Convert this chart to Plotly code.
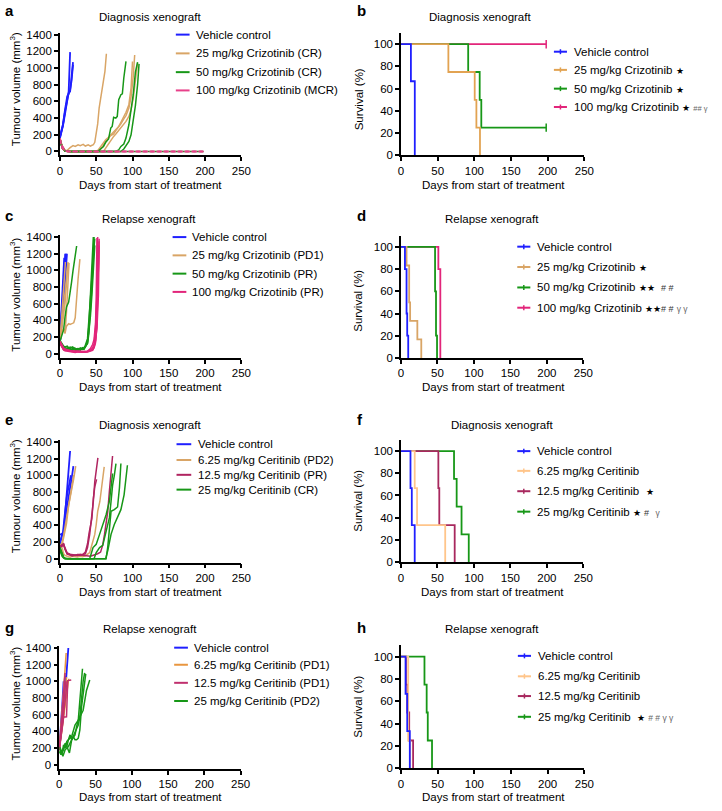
import plotly.graph_objects as go

W, H = 722, 811
FONT = "Liberation Sans, Arial, Helvetica, sans-serif"

# ---------------- colours ----------------
BLUE = "#1F1FFF"
TAN = "#D9A566"
TAN_B = "#E2A352"
GREEN = "#179717"
PINK_A = "#E8408A"
PINK = "#E2257A"
LIGHT_OR = "#FFC58A"
CRIMSON = "#B02460"
CRIMSON_F = "#A8285E"
ORANGE_G = "#E8963F"
CRIMSON_G = "#C0306E"

# ---------------- data: tumour volume (days, mm3) per mouse ----------------
# panel a  - diagnosis xenograft, crizotinib
A_VEH = [
    ([0, 2, 4, 7, 10, 12, 14], [160, 230, 300, 450, 650, 720, 1190]),
    ([0, 2, 4, 7, 10, 12, 14, 16, 18], [170, 240, 310, 480, 640, 700, 720, 900, 1070]),
    ([0, 2, 4, 7, 10, 12, 14, 16, 18], [180, 250, 320, 500, 660, 690, 740, 850, 1040]),
]
A_CR25 = [
    ([0, 2, 4, 7, 10, 14, 18, 21, 25, 28, 32, 35, 39, 42, 46, 48, 50, 52, 54, 57, 60, 62, 64],
     [150, 80, 30, 10, 15, 45, 70, 60, 80, 70, 85, 65, 80, 65, 80, 110, 210, 330, 520, 680, 840, 960, 1170]),
    ([0, 3, 7, 10, 14, 21, 28, 35, 42, 49, 53, 56, 60, 63, 67, 70, 74, 77, 81, 84, 88, 91, 95, 98, 100],
     [150, 60, 10, 0, 0, 0, 0, 0, 0, 0, 20, 60, 100, 140, 170, 200, 230, 260, 300, 350, 410, 470, 560, 760, 1077]),
    ([0, 3, 7, 10, 14, 21, 28, 35, 42, 49, 53, 56, 60, 63, 67, 70, 74, 77, 81, 84, 88, 91, 95, 98, 101, 103],
     [140, 50, 5, 0, 0, 0, 0, 0, 0, 0, 0, 30, 80, 120, 160, 190, 210, 250, 290, 330, 390, 430, 520, 650, 900, 1155]),
    ([0, 3, 7, 10, 14, 21, 28, 35, 42, 49, 56, 60, 63, 67, 70, 74, 77, 81, 84, 88, 91, 95, 98, 101, 104, 107],
     [160, 70, 15, 0, 0, 0, 0, 0, 0, 0, 0, 0, 40, 90, 140, 180, 210, 250, 290, 330, 360, 420, 500, 640, 830, 1061]),
]
A_CR50 = [
    ([0, 3, 7, 10, 14, 21, 28, 35, 42, 49, 52, 56, 60, 63, 67, 70, 72, 74, 77, 79, 81, 84, 86, 88, 91],
     [150, 50, 10, 0, 0, 0, 0, 0, 0, 0, 0, 30, 60, 110, 150, 280, 300, 410, 400, 420, 620, 680, 690, 880, 1080]),
    ([0, 3, 7, 10, 14, 21, 28, 35, 42, 49, 56, 63, 70, 77, 81, 84, 88, 91, 95, 98, 101, 104, 107],
     [150, 50, 5, 0, 0, 0, 0, 0, 0, 0, 0, 0, 0, 0, 20, 60, 90, 160, 320, 480, 680, 950, 1070]),
    ([0, 3, 7, 10, 14, 21, 28, 35, 42, 49, 56, 63, 70, 77, 84, 88, 91, 95, 98, 101, 104, 107, 109],
     [140, 40, 5, 0, 0, 0, 0, 0, 0, 0, 0, 0, 0, 0, 0, 30, 70, 120, 200, 350, 550, 800, 1050]),
    ([0, 3, 7, 10, 14, 21, 28, 42, 56, 70, 84, 98, 112, 126, 140, 154, 168, 182, 198],
     [150, 50, 5, 0, 0, 0, 0, 0, 0, 0, 0, 0, 0, 0, 0, 0, 0, 0, 0]),
]
A_CR100 = [
    ([0, 3, 7, 10, 14, 28, 56, 84, 112, 140, 168, 198], [150, 60, 10, 0, 0, 0, 0, 0, 0, 0, 0, 0]),
    ([0, 3, 7, 10, 14, 28, 56, 84, 112, 140, 168, 198], [130, 50, 5, 0, 0, 0, 0, 0, 0, 0, 0, 0]),
    ([0, 3, 7, 10, 14, 28, 56, 84, 112, 140, 168, 198], [160, 70, 10, 0, 0, 0, 0, 0, 0, 0, 0, 0]),
    ([0, 3, 7, 10, 14, 28, 56, 84, 112, 140, 168, 198], [140, 40, 5, 0, 0, 0, 0, 0, 0, 0, 0, 0]),
]

# panel c - relapse xenograft, crizotinib
C_VEH = [
    ([0, 2, 4, 6], [160, 450, 800, 1150]),
    ([0, 2, 4, 6, 7.5], [150, 380, 650, 950, 1200]),
    ([0, 2, 4, 6, 8], [170, 350, 600, 900, 1200]),
    ([0, 2, 4, 6, 8.5], [140, 330, 580, 850, 1180]),
    ([0, 2, 4, 6, 8, 9.5], [150, 300, 500, 750, 1000, 1200]),
]
C_CR25 = [
    ([0, 2, 4, 6, 7.5], [150, 350, 650, 900, 1100]),
    ([0, 2, 4, 7, 9, 11], [150, 300, 450, 700, 900, 1090]),
    ([0, 3, 5, 7, 9, 11, 12.5], [150, 280, 300, 245, 500, 800, 1090]),
    ([0, 2, 4, 7, 9, 11], [140, 280, 400, 600, 850, 1100]),
    ([0, 3, 5, 7, 9, 12, 14, 16, 19, 21, 23, 25, 27.5],
     [150, 280, 300, 245, 330, 360, 350, 355, 370, 430, 700, 900, 1135]),
]
C_CR50 = [
    ([0, 3, 5, 7, 9, 12, 14, 16, 18, 21, 23], [150, 230, 285, 443, 562, 620, 720, 858, 997, 1155, 1293]),
    ([0, 3, 5, 7, 10, 12, 14, 17, 19, 21, 24, 26, 28, 31, 33, 35, 38, 40, 42, 44, 46],
     [150, 100, 80, 70, 60, 50, 80, 60, 50, 60, 40, 50, 70, 60, 50, 80, 150, 350, 650, 1000, 1400]),
    ([0, 3, 5, 7, 10, 12, 14, 17, 19, 21, 24, 26, 28, 31, 33, 35, 38, 40, 42, 44, 46, 47],
     [140, 90, 60, 50, 70, 60, 50, 40, 60, 50, 60, 45, 40, 70, 60, 90, 120, 250, 500, 800, 1150, 1400]),
    ([0, 3, 5, 7, 10, 12, 14, 17, 19, 21, 24, 26, 28, 31, 33, 35, 38, 40, 42, 44, 46, 48],
     [160, 110, 90, 80, 90, 70, 60, 80, 70, 55, 50, 60, 55, 50, 70, 100, 180, 400, 600, 900, 1200, 1380]),
    ([0, 3, 5, 7, 10, 12, 14, 17, 19, 21, 24, 26, 28, 31, 33, 35, 38, 40, 42, 44, 46, 48],
     [130, 80, 50, 40, 50, 40, 45, 50, 45, 40, 35, 45, 50, 55, 60, 80, 130, 300, 450, 700, 1000, 1300]),
]
C_CR100 = [
    ([0, 3, 5, 7, 10, 14, 17, 21, 24, 28, 31, 35, 38, 40, 42, 45, 47, 49, 50, 51],
     [140, 90, 60, 50, 40, 30, 30, 25, 30, 30, 25, 25, 30, 40, 60, 110, 170, 360, 680, 1390]),
    ([0, 3, 5, 7, 10, 14, 17, 21, 24, 28, 31, 35, 38, 40, 42, 45, 47, 49, 51, 52],
     [130, 80, 50, 40, 35, 25, 20, 20, 25, 20, 20, 25, 25, 30, 40, 70, 120, 300, 700, 1400]),
    ([0, 3, 5, 7, 10, 14, 17, 21, 24, 28, 31, 35, 38, 40, 42, 45, 47, 49, 51, 52, 54],
     [150, 100, 70, 55, 45, 35, 30, 30, 25, 25, 20, 20, 25, 30, 35, 40, 80, 150, 400, 800, 1350]),
    ([0, 3, 5, 7, 10, 14, 17, 21, 24, 28, 31, 35, 38, 40, 42, 45, 47, 49, 51, 52, 54],
     [120, 70, 45, 35, 30, 20, 20, 15, 20, 20, 15, 20, 20, 25, 30, 45, 70, 130, 350, 750, 1380]),
    ([0, 3, 5, 7, 10, 14, 17, 21, 24, 28, 31, 35, 38, 40, 42, 45, 47, 49, 51, 53, 54],
     [140, 85, 55, 45, 40, 30, 25, 25, 30, 25, 20, 20, 25, 30, 35, 50, 90, 160, 300, 700, 1300]),
]

# panel e - diagnosis xenograft, ceritinib
E_VEH = [
    ([0, 3, 5, 7, 10, 12, 14], [170, 300, 300, 500, 800, 1050, 1290]),
    ([0, 2, 4, 7, 10, 13, 15], [290, 295, 300, 560, 780, 900, 1000]),
    ([0, 3, 5, 7, 10, 13, 16, 18.5], [200, 280, 330, 450, 650, 800, 950, 1110]),
]
E_CE625 = [
    ([0, 3, 5, 7, 9, 12, 14, 16, 18.8], [150, 200, 280, 380, 450, 600, 700, 850, 1000]),
    ([0, 3, 5, 7, 9, 12, 14, 16, 19, 21.7], [140, 170, 250, 340, 420, 640, 720, 820, 960, 1110]),
    ([0, 3, 5, 7, 10, 14, 17, 21, 24, 28, 31, 35, 38, 41, 43, 46, 48, 50, 52, 55, 57, 59, 61],
     [150, 130, 60, 40, 30, 20, 30, 25, 20, 30, 25, 35, 50, 75, 134, 213, 292, 410, 568, 686, 844, 1002, 1100]),
]
E_CE125 = [
    ([0, 3, 5, 7, 10, 14, 17, 21, 24, 28, 31, 35, 38, 41, 42.5, 44, 46, 48, 50, 52.3],
     [150, 160, 175, 120, 60, 50, 45, 40, 50, 45, 50, 60, 134, 292, 410, 489, 686, 923, 1081, 1207]),
    ([0, 3, 5, 7, 10, 14, 17, 21, 24, 28, 31, 35, 38, 40, 42, 44, 46, 48, 50.5],
     [140, 150, 170, 110, 55, 40, 35, 45, 40, 50, 45, 80, 180, 300, 420, 480, 720, 860, 950]),
    ([0, 3, 5, 7, 10, 14, 17, 21, 24, 28, 31, 35, 38, 42, 45, 49, 52, 56, 59, 61.4, 63.6, 65.9, 68.1, 70.4, 72.5],
     [150, 170, 180, 130, 70, 55, 50, 45, 40, 45, 40, 35, 30, 30, 40, 50, 60, 80, 166, 292, 410, 568, 805, 1002, 1230]),
]
E_CE25 = [
    ([0, 3, 5, 7, 10, 14, 21, 28, 35, 41, 45.6, 50, 54.6, 59, 63.6, 68.1, 70.4, 72.6],
     [120, 40, 16, 5, 0, 0, 0, 0, 0, 0, 134, 173, 292, 410, 528, 686, 850, 1021]),
    ([0, 3, 5, 7, 10, 14, 21, 28, 35, 42, 47, 50, 54.6, 59, 63.6, 68.1, 70.4, 72.6, 75, 77.2],
     [140, 60, 20, 5, 0, 0, 0, 0, 0, 0, 0, 75, 134, 160, 331, 489, 686, 883, 1000, 1140]),
    ([0, 3, 5, 7, 10, 14, 21, 28, 35, 42, 49, 56, 63.6, 66, 68.1, 70.4, 74.9, 79.4, 82, 84],
     [100, 30, 10, 0, 0, 0, 0, 0, 0, 0, 0, 0, 0, 150, 371, 568, 588, 620, 850, 1140]),
    ([0, 3, 5, 7, 10, 14, 21, 28, 35, 42, 49, 56, 63, 66, 70.4, 74.9, 79.4, 84, 88.4, 90.7, 93],
     [130, 50, 15, 0, 0, 0, 0, 0, 0, 0, 0, 0, 0, 100, 292, 410, 489, 588, 765, 923, 1120]),
]

# panel g - relapse xenograft, ceritinib
G_VEH = [
    ([0, 2, 4, 6], [180, 400, 700, 1000]),
    ([0, 2, 4, 6, 8], [170, 350, 600, 850, 1068]),
    ([0, 2, 4, 6, 8, 10, 12.5], [190, 330, 500, 650, 850, 1100, 1400]),
]
G_CE625 = [
    ([0, 2, 4, 6, 8, 9.5], [200, 400, 650, 900, 1150, 1340]),
    ([0, 2, 4, 6, 8, 10], [180, 350, 500, 700, 900, 1050]),
    ([0, 2, 4, 6, 8, 10.5], [190, 380, 550, 650, 800, 1000]),
    ([0, 2, 4, 6, 8, 10, 12, 13], [170, 300, 450, 550, 650, 780, 950, 1030]),
]
G_CE125 = [
    ([0, 2, 4, 6, 8], [170, 400, 650, 900, 1100]),
    ([0, 2, 4, 6, 8, 9], [180, 350, 500, 700, 900, 1000]),
    ([0, 2, 4, 6, 8, 10, 11], [190, 300, 450, 600, 750, 900, 1000]),
    ([0, 2, 4, 6, 8, 10, 11.7, 14, 16.5], [180, 330, 480, 573, 570, 573, 1008, 1010, 1016]),
]
G_CE25 = [
    ([0, 1.4, 3.6, 5.9, 8.1, 10.4, 12.6, 17.1, 21.7, 26.2, 28.4, 30.7, 32],
     [200, 198, 119, 237, 198, 277, 297, 336, 475, 534, 771, 1050, 1150]),
    ([0, 1.4, 5.9, 10.4, 12.6, 14.9, 17.1, 21.7, 26.2, 28.4, 32.9, 35],
     [150, 138, 198, 217, 297, 356, 297, 396, 475, 573, 1000, 1100]),
    ([0, 1.4, 5, 8.1, 12.6, 19.4, 21.7, 23.9, 26.2, 28.4, 30.7, 35.2, 36.5],
     [180, 178, 99, 178, 217, 336, 297, 297, 316, 415, 692, 1048, 1088]),
    ([0, 2.3, 5.9, 8.1, 10.4, 14, 17.1, 21.7, 23.9, 26.2, 32.9, 37.5, 42],
     [160, 119, 178, 257, 217, 140, 297, 356, 455, 534, 652, 890, 1016]),
]

# ---------------- data: survival (days, %) ----------------
B_VEH = ([0, 13.5, 18.8], [100, 66.7, 0])
B_CR25 = ([0, 64.6, 100.5, 102.8, 107.7], [100, 75, 50, 25, 0])
B_CR50 = ([0, 91.6, 107.3, 109.5, 198], [100, 75, 50, 25, 25])
B_CR100 = ([0, 198], [100, 100])
B_CENSOR = [(198, 100), (198, 25)]

D_VEH = ([0, 5.4, 7.6, 8.5, 9.9], [100, 80, 40, 20, 0])
D_CR25 = ([0, 7.6, 11.2, 12.5, 22.4, 27.8], [100, 83.3, 50, 33.3, 16.7, 0])
D_CR50 = ([0, 46.7, 48, 49.4], [100, 60, 20, 0])
D_CR100 = ([0, 51.2, 53.9], [100, 80, 0])

F_VEH = ([0, 13, 14.8, 18.8], [100, 66.7, 33.3, 0])
F_CE625 = ([0, 18.8, 22, 60.6], [100, 66.7, 33.3, 0])
F_CE125 = ([0, 51.2, 52.5, 73.6], [100, 66.7, 33.3, 0])
F_CE25 = ([0, 72.7, 76.3, 83, 92.9], [100, 75, 50, 25, 0])

H_VEH = ([0, 6.2, 8.5, 12], [100, 66.7, 33.3, 0])
H_CE625 = ([0, 9.8, 12.5], [100, 25, 0])
H_CE125 = ([0, 6.7, 8.5, 11.2, 16.5], [100, 75, 50, 25, 0])
H_CE25 = ([0, 32, 35, 36.5, 42.3], [100, 75, 50, 25, 0])

TUMOUR_TICKS = [0, 200, 400, 600, 800, 1000, 1200, 1400]
SURV_TICKS = [0, 20, 40, 60, 80, 100]
DAY_TICKS = [0, 50, 100, 150, 200, 250]

# ---------------- layout helpers ----------------
def X(px):
    return px / W


def Y(py):
    return 1 - py / H


fig = go.Figure()
layout = {}
annotations = []
shapes = []

AX_COMMON = dict(showline=True, linecolor="black", linewidth=1.5, ticks="outside",
                 ticklen=4, tickwidth=1.5, tickcolor="black", showgrid=False, zeroline=False,
                 tickfont=dict(family=FONT, size=11.5, color="black"), layer="above traces",
                 fixedrange=True)


def key(prefix, i):
    return prefix if i == 1 else f"{prefix}{i}"


def tumour_axes(i, x0, x250, py0, py1400, pyaxis):
    s = (py0 - py1400) / 1400.0
    ymin = -(pyaxis - py0) / s
    ymax = 1420
    top = py0 - ymax * s
    layout[key("xaxis", i)] = dict(AX_COMMON, domain=[X(x0), X(x250)], range=[0, 250],
                                   anchor=key("y", i), tickvals=DAY_TICKS)
    layout[key("yaxis", i)] = dict(AX_COMMON, domain=[Y(pyaxis), Y(top)], range=[ymin, ymax],
                                   anchor=key("x", i), tickvals=TUMOUR_TICKS)


def surv_axes(i, x0, x250, py0, py100):
    s = (py0 - py100) / 100.0
    top = py0 - 110 * s
    layout[key("xaxis", i)] = dict(AX_COMMON, domain=[X(x0), X(x250)], range=[0, 250],
                                   anchor=key("y", i), tickvals=DAY_TICKS)
    layout[key("yaxis", i)] = dict(AX_COMMON, domain=[Y(py0), Y(top)], range=[0, 110],
                                   anchor=key("x", i), tickvals=SURV_TICKS)


def add_tumour(i, mice, color, width=1.5, dash=None):
    for days, vols in mice:
        fig.add_trace(go.Scatter(x=days, y=vols, mode="lines",
                                 line=dict(color=color, width=width, dash=dash),
                                 xaxis=key("x", i), yaxis=key("y", i),
                                 showlegend=False, hoverinfo="skip"))


def add_surv(i, curve, color):
    days, surv = curve
    fig.add_trace(go.Scatter(x=days, y=surv, mode="lines", line=dict(color=color, width=1.8, shape="hv"),
                             xaxis=key("x", i), yaxis=key("y", i), showlegend=False, hoverinfo="skip"))


def text(x, y, s, size=11.5, xanchor="center", yanchor="middle", angle=0, bold=False):
    if bold:
        s = f"<b>{s}</b>"
    annotations.append(dict(x=X(x), y=Y(y), xref="paper", yref="paper", text=s, showarrow=False,
                            xanchor=xanchor, yanchor=yanchor, textangle=angle,
                            font=dict(family=FONT, size=size, color="black")))


def legend(x0, x1, xt, rows, items, tick=False):
    for ry, (label, color) in zip(rows, items):
        shapes.append(dict(type="line", xref="paper", yref="paper", x0=X(x0), x1=X(x1), y0=Y(ry), y1=Y(ry),
                           line=dict(color=color, width=2)))
        if tick:
            xm = (x0 + x1) / 2
            shapes.append(dict(type="line", xref="paper", yref="paper", x0=X(xm), x1=X(xm),
                               y0=Y(ry - 2.5), y1=Y(ry + 2.5), line=dict(color=color, width=1.5)))
        text(xt, ry, label, xanchor="left")


STAR = "<span style='font-size:9px'>\u2605</span>"


def small(s, color="#666666", size=7.5):
    return f"<span style='font-size:{size}px;color:{color}'>{s}</span>"


def mid(s, color="#333333", size=9):
    return f"<span style='font-size:{size}px;color:{color}'>{s}</span>"


# ---------------- panels ----------------
tumour_axes(1, 58, 242.7, 149.3, 31, 153.3)
surv_axes(2, 405.3, 592, 153.3, 40.7)
tumour_axes(3, 58, 242.7, 354, 236, 358.3)
surv_axes(4, 405.3, 591, 358.3, 246)
tumour_axes(5, 58, 242.7, 561.7, 443.3, 565.7)
surv_axes(6, 405.3, 591, 565, 452.7)
tumour_axes(7, 57.3, 242, 770, 652, 774.3)
surv_axes(8, 405.3, 592, 774, 660.7)

# a
add_tumour(1, A_VEH, BLUE, 1.8)
add_tumour(1, A_CR25, TAN)
add_tumour(1, A_CR50, GREEN)
add_tumour(1, A_CR100, PINK_A, 1.5, "4px,3px")
# b (drawn in reverse order)
add_surv(2, B_CR100, PINK)
add_surv(2, B_CR50, GREEN)
add_surv(2, B_CR25, TAN_B)
add_surv(2, B_VEH, BLUE)
fig.add_trace(go.Scatter(x=[c[0] for c in B_CENSOR], y=[c[1] for c in B_CENSOR], mode="markers",
                         marker=dict(symbol="line-ns-open", size=6, color=[PINK, GREEN],
                                     line=dict(width=1.5, color=[PINK, GREEN])),
                         xaxis="x2", yaxis="y2", showlegend=False, hoverinfo="skip", cliponaxis=False))
# c
add_tumour(3, C_VEH, BLUE, 2)
add_tumour(3, C_CR25, TAN)
add_tumour(3, C_CR50, GREEN)
add_tumour(3, C_CR100, PINK)
# d
add_surv(4, D_CR100, PINK)
add_surv(4, D_CR50, GREEN)
add_surv(4, D_CR25, TAN)
add_surv(4, D_VEH, BLUE)
# e
add_tumour(5, E_VEH, BLUE, 1.8)
add_tumour(5, E_CE625, TAN)
add_tumour(5, E_CE125, CRIMSON)
add_tumour(5, E_CE25, GREEN)
# f
add_surv(6, F_CE25, GREEN)
add_surv(6, F_CE125, CRIMSON_F)
add_surv(6, F_CE625, LIGHT_OR)
add_surv(6, F_VEH, BLUE)
# g
add_tumour(7, G_VEH, BLUE, 1.8)
add_tumour(7, G_CE625, ORANGE_G)
add_tumour(7, G_CE125, CRIMSON_G)
add_tumour(7, G_CE25, GREEN)
# h
add_surv(8, H_CE25, GREEN)
add_surv(8, H_CE125, CRIMSON_F)
add_surv(8, H_CE625, LIGHT_OR)
add_surv(8, H_VEH, BLUE)

# ---------------- text ----------------
for letter, x, y in [("a", 0, 7), ("b", 358.5, 7), ("c", 0, 214), ("d", 358.5, 214),
                     ("e", 0, 421), ("f", 358.5, 421), ("g", 0, 631), ("h", 358.5, 631)]:
    text(x, y, letter, size=15, xanchor="left", bold=True)

for s, x, y in [("Diagnosis xenograft", 150, 13), ("Diagnosis xenograft", 486, 13),
                ("Relapse xenograft", 149, 218), ("Relapse xenograft", 498, 218),
                ("Diagnosis xenograft", 150, 426), ("Diagnosis xenograft", 508, 426),
                ("Relapse xenograft", 150, 633), ("Relapse xenograft", 498, 633)]:
    text(x, y, s)

for x, y in [(150.5, 183), (499, 183), (150.5, 388), (499, 388),
             (150.5, 595), (498.5, 595), (150, 803), (499.5, 803)]:
    text(x, y, "Days from start of treatment")

for y in [86, 294, 498, 708]:
    text(12.5, y, "Tumour volume (mm<sup>3</sup>)", angle=-90)
for y in [96, 300, 502.5, 711]:
    text(362, y, "Survival (%)", angle=-90)

# ---------------- legends ----------------
legend(176, 190, 195, [31, 50, 69, 87.5],
       [("Vehicle control", BLUE), ("25 mg/kg Crizotinib (CR)", TAN),
        ("50 mg/kg Crizotinib (CR)", GREEN), ("100 mg/kg Crizotinib (MCR)", PINK_A)])
legend(561, 574.3, 579.3, [48.3, 66.7, 85.7, 104.3],
       [("Vehicle control", BLUE), ("25 mg/kg Crizotinib " + STAR, TAN_B),
        ("50 mg/kg Crizotinib " + STAR, GREEN),
        ("100 mg/kg Crizotinib " + STAR + " " + small("## \u03b3"), PINK)], tick=True)
legend(172.7, 186.7, 190.7, [236, 254.5, 273, 291.5],
       [("Vehicle control", BLUE), ("25 mg/kg Crizotinib (PD1)", TAN),
        ("50 mg/kg Crizotinib (PR)", GREEN), ("100 mg/kg Crizotinib (PR)", PINK)])
legend(523.7, 537, 542, [245.7, 266.3, 287, 307.5],
       [("Vehicle control", BLUE), ("25 mg/kg Crizotinib " + STAR, TAN),
        ("50 mg/kg Crizotinib " + STAR + STAR + "  " + mid("# #"), GREEN),
        ("100 mg/kg Crizotinib " + STAR + STAR + mid("# #") + " " + small("\u03b3 \u03b3", size=8.5), PINK)],
       tick=True)
legend(176.7, 191.7, 196.7, [445.7, 461.7, 476.7, 491.7],
       [("Vehicle control", BLUE), ("6.25 mg/kg Ceritinib (PD2)", TAN),
        ("12.5 mg/kg Ceritinib (PR)", CRIMSON), ("25 mg/kg Ceritinib (CR)", GREEN)])
legend(523.7, 537, 541.7, [452.7, 472.7, 493.3, 514],
       [("Vehicle control", BLUE), ("6.25 mg/kg Ceritinib", LIGHT_OR),
        ("12.5 mg/kg Ceritinib  " + STAR, CRIMSON_F),
        ("25 mg/kg Ceritinib " + STAR + " " + mid("#") + "  " + small("\u03b3", size=8.5), GREEN)], tick=True)
legend(174.3, 188.3, 192.3, [651.7, 669, 687.3, 705.7],
       [("Vehicle control", BLUE), ("6.25 mg/kg Ceritinib (PD1)", ORANGE_G),
        ("12.5 mg/kg Ceritinib (PD1)", CRIMSON_G), ("25 mg/kg Ceritinib (PD2)", GREEN)])
legend(524.3, 537.7, 542.7, [660, 680.7, 700.7, 721.7],
       [("Vehicle control", BLUE), ("6.25 mg/kg Ceritinib", LIGHT_OR),
        ("12.5 mg/kg Ceritinib", CRIMSON_F),
        ("25 mg/kg Ceritinib  " + STAR + " " + small("# # \u03b3 \u03b3", size=8.5), GREEN)], tick=True)

layout.update(width=W, height=H, margin=dict(l=0, r=0, t=0, b=0), paper_bgcolor="white",
              plot_bgcolor="white", showlegend=False, annotations=annotations, shapes=shapes,
              font=dict(family=FONT, size=11.5, color="black"))
fig.update_layout(**layout)
fig.write_html("out.html", config={"displayModeBar": False},
               post_script="document.body.style.margin='0';document.body.style.padding='0';")
